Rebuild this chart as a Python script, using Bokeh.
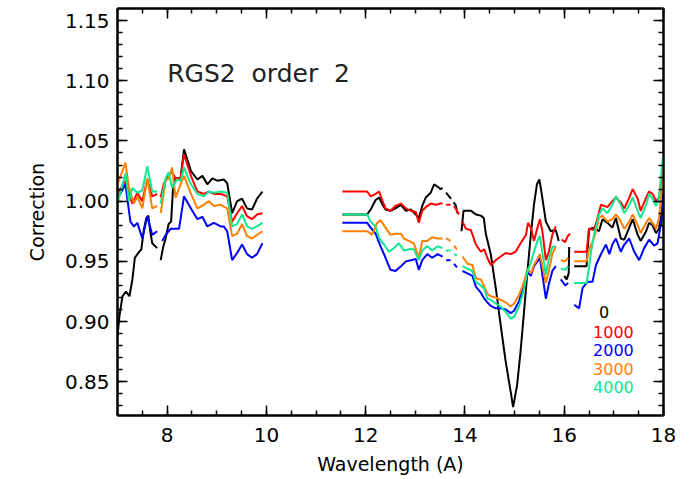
import math
from bokeh.plotting import figure
from bokeh.models import (LinearAxis, SingleIntervalTicker, NumeralTickFormatter,
                          Range1d, Label, CustomJSTickFormatter)
from bokeh.embed import file_html
from bokeh.resources import INLINE

N = float("nan")

# ---- data (wavelength in A, correction) ; NaN = gap ----
wl_0 = [7.00, 7.04, 7.10, 7.17, 7.24, 7.30, 7.35, 7.42, 7.48, 7.53, 7.58, 7.62, 7.66, 7.70, 7.80, N,
        7.87, 7.92, 7.97, 8.03, 8.08, 8.12, 8.16, 8.27, 8.34, 8.48, 8.61, 8.71, 8.81, 8.91, 9.01, 9.14, 9.21,
        9.31, 9.41, 9.51, 9.61, 9.71, 9.81, 9.92, N,
        11.53, 12.03, 12.10, 12.20, 12.27, 12.34, 12.40, 12.50, 12.60, 12.71, 12.81, 12.91, 13.01, 13.07,
        13.14, 13.21, 13.31, 13.38, 13.45, 13.51, 13.55, N, 13.62, 13.68, 13.72, N, 13.77, 13.81, 13.85, N,
        13.93, 13.97, 14.12, 14.22, 14.32, 14.38, 14.42, 14.52, 14.62, 14.72, 14.82, 14.92, 14.97, 15.05,
        15.12, 15.19, 15.26, 15.32, 15.39, 15.45, 15.50, 15.55, 15.63, 15.73, 15.83, 15.89, N,
        16.00, 16.05, 16.09, 16.10, N,
        16.20, 16.45, 16.50, 16.60, 16.70, 16.77, 16.87, 16.97, 17.04, 17.14, 17.21, 17.31, 17.38, 17.48,
        17.54, 17.65, 17.71, 17.78, 17.85, 17.91, 17.98, 18.00]
corr_0 = [0.888, 0.905, 0.921, 0.925, 0.921, 0.935, 0.953, 0.957, 0.960, 0.976, 0.986, 0.988, 0.975, 0.965, 0.961, N,
          0.951, 0.962, 0.969, 0.981, 0.983, 1.012, 1.019, 1.019, 1.043, 1.025, 1.018, 1.021, 1.014, 1.019, 1.017, 1.018, 1.015,
          0.990, 1.000, 1.002, 0.994, 0.993, 1.002, 1.008, N,
          0.989, 0.989, 0.993, 1.001, 1.003, 0.997, 0.993, 0.992, 0.994, 0.997, 0.992, 0.993, 0.989, 0.986,
          0.996, 1.003, 1.007, 1.014, 1.012, 1.010, 1.011, N, 1.007, 1.004, 1.002, N, 0.999, 0.997, 0.990, N,
          0.975, 0.992, 0.992, 0.989, 0.988, 0.986, 0.973, 0.956, 0.928, 0.897, 0.867, 0.842, 0.829, 0.847,
          0.875, 0.908, 0.942, 0.969, 0.997, 1.014, 1.018, 1.005, 0.983, 0.975, 0.976, 0.967, N,
          0.938, 0.935, 0.940, 0.962, N,
          0.946, 0.946, 0.977, 0.978, 0.975, 0.985, 0.982, 0.978, 0.986, 0.969, 0.968, 0.978, 0.985, 0.972,
          0.967, 0.975, 0.982, 0.980, 0.9735, 0.977, 0.995, 1.010]

wl_1000 = [7.00, 7.16, 7.23, 7.30, 7.40, 7.50, 7.60, 7.70, 7.80, N,
           7.87, 7.93, 8.03, 8.10, 8.17, 8.27, 8.34, 8.48, 8.61, 8.74, 8.84, 8.94, 9.08, 9.21, 9.31, 9.41,
           9.51, 9.61, 9.71, 9.81, 9.92, N,
           11.53, 12.03, 12.10, 12.20, 12.27, 12.34, 12.40, 12.50, 12.60, 12.71, 12.81, 12.91, 13.01, 13.07,
           13.14, 13.21, 13.31, 13.41, 13.51, 13.55, N, 13.62, 13.71, N, 13.78, 13.88, N,
           13.95, 14.02, 14.12, 14.22, 14.32, 14.39, 14.45, 14.52, 14.62, 14.72, 14.82, 14.92, 15.02, 15.12,
           15.23, 15.27, 15.33, 15.39, 15.46, 15.51, 15.56, 15.63, 15.69, 15.76, 15.83, N,
           15.95, 16.02, 16.07, 16.12, N,
           16.20, 16.45, 16.50, 16.60, 16.67, 16.74, 16.87, 16.97, 17.04, 17.14, 17.21, 17.31, 17.38, 17.48,
           17.54, 17.65, 17.71, 17.78, 17.85, 17.91, 17.98, 18.00]
corr_1000 = [1.006, 1.017, 1.006, 0.998, 1.007, 1.000, 1.018, 1.004, 1.006, N,
             1.003, 1.014, 1.022, 1.024, 1.019, 1.019, 1.039, 1.021, 1.008, 1.006, 1.008, 1.006, 1.006, 1.004, 0.983, 0.990,
             0.996, 0.9875, 0.985, 0.989, 0.990, N,
             1.008, 1.008, 1.004, 1.006, 1.008, 1.000, 0.994, 0.992, 0.996, 0.998, 0.994, 0.992, 0.991, 0.982,
             0.992, 0.995, 0.998, 0.997, 0.998, 0.998, N, 0.997, 0.997, N, 0.996, 0.989, N,
             0.983, 0.977, 0.976, 0.964, 0.958, 0.960, 0.953, 0.947, 0.951, 0.954, 0.957, 0.956, 0.958, 0.965,
             0.972, 0.982, 0.978, 0.967, 0.978, 0.985, 0.975, 0.951, 0.958, 0.972, 0.979, N,
             0.968, 0.966, 0.971, 0.973, N,
             0.958, 0.958, 0.977, 0.976, 0.986, 0.997, 0.995, 1.000, 1.003, 0.999, 0.994, 1.003, 1.010, 1.002,
             0.992, 1.003, 1.008, 1.006, 1.000, 1.003, 1.025, 1.035]

wl_2000 = [7.00, 7.16, 7.26, 7.33, 7.40, 7.50, 7.60, 7.70, 7.80, N,
           7.90, 7.97, 8.07, 8.17, 8.24, 8.34, 8.48, 8.61, 8.71, 8.81, 8.94, 9.08, 9.14, 9.21, 9.31, 9.41,
           9.51, 9.61, 9.71, 9.81, 9.92, N,
           11.53, 12.03, 12.10, 12.20, 12.30, 12.40, 12.50, 12.60, 12.71, 12.81, 12.91, 13.01, 13.07, 13.14,
           13.24, 13.34, 13.45, 13.55, N, 13.62, 13.71, N, 13.78, 13.84, N,
           13.95, 14.05, 14.15, 14.22, 14.32, 14.39, 14.45, 14.52, 14.62, 14.72, 14.82, 14.92, 14.99, 15.09,
           15.19, 15.26, 15.33, 15.39, 15.46, 15.51, 15.56, 15.63, 15.69, 15.76, 15.83, N,
           15.93, 16.02, 16.08, N,
           16.20, 16.30, 16.37, 16.47, 16.57, 16.64, 16.74, 16.84, 16.91, 16.97, 17.04, 17.14, 17.21, 17.31,
           17.41, 17.51, 17.61, 17.71, 17.81, 17.88, 17.95, 18.00]
corr_2000 = [1.002, 1.014, 0.983, 0.979, 0.982, 0.969, 0.9875, 0.972, 0.975, N,
             0.967, 0.972, 0.977, 0.977, 0.977, 1.004, 0.994, 0.985, 0.987, 0.979, 0.982, 0.979, 0.979, 0.975, 0.951, 0.957,
             0.964, 0.956, 0.953, 0.956, 0.965, N,
             0.982, 0.982, 0.978, 0.973, 0.9625, 0.953, 0.943, 0.942, 0.946, 0.950, 0.951, 0.952, 0.943, 0.951,
             0.956, 0.953, 0.956, 0.954, N, 0.951, 0.951, N, 0.948, 0.945, N,
             0.942, 0.940, 0.938, 0.929, 0.924, 0.919, 0.916, 0.913, 0.911, 0.911, 0.910, 0.907, 0.909, 0.917,
             0.931, 0.941, 0.938, 0.946, 0.950, 0.953, 0.939, 0.919, 0.931, 0.942, 0.946, N,
             0.935, 0.930, 0.932, N,
             0.914, 0.911, 0.928, 0.933, 0.933, 0.947, 0.956, 0.964, 0.956, 0.964, 0.969, 0.958, 0.964, 0.969,
             0.958, 0.951, 0.961, 0.968, 0.963, 0.965, 0.981, 1.005]

wl_3000 = [7.00, 7.16, 7.23, 7.33, 7.40, 7.50, 7.60, 7.70, 7.80, N,
           7.87, 7.97, 8.03, 8.10, 8.17, 8.27, 8.34, 8.48, 8.61, 8.74, 8.84, 8.94, 9.08, 9.21, 9.31, 9.41,
           9.51, 9.61, 9.71, 9.81, 9.92, N,
           11.53, 12.03, 12.13, 12.23, 12.30, 12.40, 12.50, 12.60, 12.71, 12.77, 12.87, 12.97, 13.07, 13.14,
           13.24, 13.34, 13.45, 13.55, N, 13.62, 13.71, N, 13.78, 13.84, N,
           13.95, 14.05, 14.15, 14.22, 14.32, 14.39, 14.45, 14.52, 14.62, 14.72, 14.82, 14.92, 14.99, 15.09,
           15.19, 15.26, 15.33, 15.39, 15.46, 15.51, 15.56, 15.63, 15.69, 15.76, 15.83, N,
           15.93, 16.02, 16.08, N,
           16.20, 16.45, 16.50, 16.60, 16.70, 16.77, 16.87, 16.97, 17.04, 17.14, 17.21, 17.31, 17.38, 17.48,
           17.54, 17.65, 17.71, 17.78, 17.85, 17.91, 17.98, 18.00]
corr_3000 = [1.014, 1.032, 1.011, 0.998, 1.004, 0.994, 1.019, 0.994, 0.996, N,
             0.990, 1.017, 1.019, 1.028, 1.003, 1.014, 1.021, 1.006, 0.994, 0.997, 1.000, 0.996, 0.997, 0.994, 0.971, 0.973,
             0.981, 0.971, 0.969, 0.972, 0.975, N,
             0.975, 0.975, 0.972, 0.982, 0.984, 0.978, 0.972, 0.973, 0.973, 0.969, 0.967, 0.965, 0.953, 0.967,
             0.967, 0.970, 0.969, 0.969, N, 0.969, 0.967, N, 0.963, 0.960, N,
             0.954, 0.948, 0.947, 0.936, 0.935, 0.929, 0.923, 0.921, 0.920, 0.918, 0.916, 0.9125, 0.915, 0.922,
             0.933, 0.944, 0.940, 0.947, 0.952, 0.956, 0.946, 0.932, 0.942, 0.956, 0.9625, N,
             0.951, 0.950, 0.953, N,
             0.950, 0.950, 0.960, 0.969, 0.986, 0.988, 0.983, 0.985, 0.989, 0.983, 0.977, 0.983, 0.989, 0.980,
             0.9735, 0.982, 0.986, 0.982, 0.977, 0.986, 1.015, 1.030]

wl_4000 = [7.00, 7.16, 7.23, 7.30, 7.40, 7.50, 7.60, 7.70, 7.80, N,
           7.87, 7.97, 8.03, 8.10, 8.20, 8.27, 8.34, 8.48, 8.61, 8.74, 8.84, 8.94, 9.08, 9.21, 9.31, 9.41,
           9.51, 9.61, 9.71, 9.81, 9.92, N,
           11.53, 12.03, 12.10, 12.20, 12.27, 12.37, 12.47, 12.57, 12.67, 12.77, 12.87, 12.97, 13.07, 13.14,
           13.24, 13.34, 13.45, 13.55, N, 13.62, 13.71, N, 13.78, 13.84, N,
           13.95, 14.05, 14.15, 14.22, 14.32, 14.39, 14.45, 14.52, 14.62, 14.72, 14.82, 14.92, 14.99, 15.09,
           15.19, 15.26, 15.33, 15.39, 15.46, 15.51, 15.56, 15.63, 15.69, 15.76, 15.83, N,
           15.93, 16.02, 16.08, N,
           16.20, 16.45, 16.50, 16.54, 16.60, 16.70, 16.77, 16.87, 16.97, 17.04, 17.14, 17.21, 17.31, 17.38,
           17.48, 17.54, 17.65, 17.71, 17.78, 17.85, 17.91, 17.98, 18.00]
corr_4000 = [0.998, 1.023, 1.000, 1.011, 1.007, 1.009, 1.029, 1.008, 1.008, N,
             0.998, 1.019, 1.024, 1.011, 1.018, 1.017, 1.028, 1.014, 1.006, 1.004, 1.008, 1.007, 1.008, 1.007, 0.979, 0.981,
             0.989, 0.979, 0.977, 0.979, 0.982, N,
             0.989, 0.989, 0.983, 0.979, 0.969, 0.964, 0.958, 0.961, 0.965, 0.959, 0.960, 0.960, 0.951, 0.959,
             0.9625, 0.959, 0.9625, 0.961, N, 0.959, 0.959, N, 0.956, 0.955, N,
             0.946, 0.944, 0.942, 0.933, 0.930, 0.927, 0.919, 0.918, 0.915, 0.9125, 0.908, 0.9025, 0.904, 0.9125,
             0.927, 0.942, 0.949, 0.958, 0.967, 0.971, 0.957, 0.939, 0.952, 0.962, 0.9625, N,
             0.944, 0.943, 0.946, N,
             0.932, 0.932, 0.945, 0.958, 0.972, 0.989, 0.994, 0.990, 0.997, 1.004, 0.997, 0.990, 0.997, 1.003,
             0.992, 0.986, 0.997, 1.006, 1.002, 0.996, 1.003, 1.033, 1.042]

series_labels = ["0", "1000", "2000", "3000", "4000"]
series_colors = ["#000000", "#ff0000", "#0000ff", "#ff8000", "#10e890"]
series_x = [wl_0, wl_1000, wl_2000, wl_3000, wl_4000]
series_y = [corr_0, corr_1000, corr_2000, corr_3000, corr_4000]

title_text = "RGS2\u00a0\u00a0order\u00a0\u00a02"
x_label = "Wavelength (A)"
y_label = "Correction"

FONT = "DejaVu Sans"

p = figure(width=689, height=479, output_backend="svg", toolbar_location=None,
           x_range=Range1d(7, 18), y_range=Range1d(0.822, 1.16),
           min_border_left=117, min_border_right=26, min_border_top=8, min_border_bottom=64)
p.background_fill_color = "white"
p.border_fill_color = "white"
p.outline_line_color = "black"
p.outline_line_width = 2
p.xgrid.visible = False
p.ygrid.visible = False

xt = SingleIntervalTicker(interval=2, num_minor_ticks=4)
yt = SingleIntervalTicker(interval=0.05, num_minor_ticks=5)


def style_axis(ax):
    ax.axis_line_color = "black"
    ax.axis_line_width = 2
    ax.major_tick_in = 10
    ax.major_tick_out = 0
    ax.minor_tick_in = 5
    ax.minor_tick_out = 0
    ax.major_tick_line_color = "black"
    ax.major_tick_line_width = 1.5
    ax.minor_tick_line_color = "black"
    ax.minor_tick_line_width = 1.5
    ax.major_label_text_font = FONT
    ax.major_label_text_color = "black"
    ax.axis_label_text_font = FONT
    ax.axis_label_text_font_style = "normal"
    ax.axis_label_text_color = "black"


xa = p.xaxis[0]
xa.ticker = xt
xa.formatter = NumeralTickFormatter(format="0")
style_axis(xa)
xa.major_label_text_font_size = "20px"
xa.major_label_standoff = 12
xa.axis_label = x_label
xa.axis_label_text_font_size = "19px"
xa.axis_label_standoff = 8

ya = p.yaxis[0]
ya.ticker = yt
ya.formatter = NumeralTickFormatter(format="0.00")
style_axis(ya)
ya.major_label_text_font_size = "20px"
ya.major_label_standoff = 8
ya.axis_label = y_label
ya.axis_label_text_font_size = "19px"
ya.axis_label_standoff = 14

blank = CustomJSTickFormatter(code="return '';")
top = LinearAxis(ticker=xt, formatter=blank, major_label_standoff=0)
style_axis(top)
p.add_layout(top, "above")
right = LinearAxis(ticker=yt, formatter=blank, major_label_standoff=0)
style_axis(right)
p.add_layout(right, "right")

for xs, ys, col in zip(series_x, series_y, series_colors):
    p.line(xs, ys, line_color=col, line_width=2)

p.add_layout(Label(x=8.0, y=1.106, text=title_text, text_font=FONT, text_font_size="25px",
                   text_color="#222222", text_baseline="alphabetic"))

# legend: coloured labels
leg_x = [16.70, 16.58, 16.58, 16.58, 16.58]
leg_y = [0.9083, 0.8917, 0.8767, 0.8608, 0.8458]
for lab, col, lx, ly in zip(series_labels, series_colors, leg_x, leg_y):
    p.add_layout(Label(x=lx, y=ly, text=lab, text_font=FONT, text_font_size="16px",
                       text_color=col, text_baseline="alphabetic"))

open("out.html", "w").write(file_html(p, INLINE))
